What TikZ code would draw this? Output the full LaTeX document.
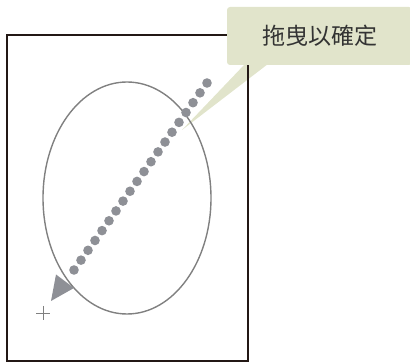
\documentclass[tikz,border=0pt]{standalone}
\usepackage{fontspec}
\usetikzlibrary{calc}
\newfontfamily\cjk{Noto Sans CJK TC}
\definecolor{framec}{HTML}{231815}
\definecolor{callc}{HTML}{E1E4CB}
\definecolor{dotc}{HTML}{8E9096}
\definecolor{ellc}{HTML}{808080}
\definecolor{txtc}{HTML}{333333}
\begin{document}
\begin{tikzpicture}[x=1pt,y=-1pt,
  framestyle/.style={draw=framec,line width=2pt},
  dotstyle/.style={fill=dotc,draw=none}]
\useasboundingbox (0,0) rectangle (410,363);
% pointer of callout
\fill[callc] (245,64) -- (268,64) -- (182,130) -- cycle;
% frame
\draw[framestyle] (7,35) rectangle (247.5,361.5);
% ellipse
\draw[ellc,line width=1.4pt] (127,198) ellipse [x radius=84, y radius=116];
% dotted drag line
\coordinate (start) at (207,83);
\coordinate (last) at (74,270);
\foreach \i in {0,...,19}{
  \fill[dotstyle] ($(start)!\i/19!(last)$) circle [radius=4.8pt];
}
\coordinate (tip) at (51,301);
\fill[dotc] (tip) -- (74,288) -- (56,274.5) -- cycle;
% cursor plus
\draw[ellc,line width=0.8pt] (36,313) -- (50,313) (43,306) -- (43,320);
% callout box
\fill[callc,rounded corners=3pt] (227,7) -- (227,65) -- (412,65) -- (412,7) -- cycle;
\node[text=txtc,font=\cjk\fontsize{23}{25}\selectfont,anchor=center] (lbl) at (320,36) {拖曳以確定};
\end{tikzpicture}
\end{document}
